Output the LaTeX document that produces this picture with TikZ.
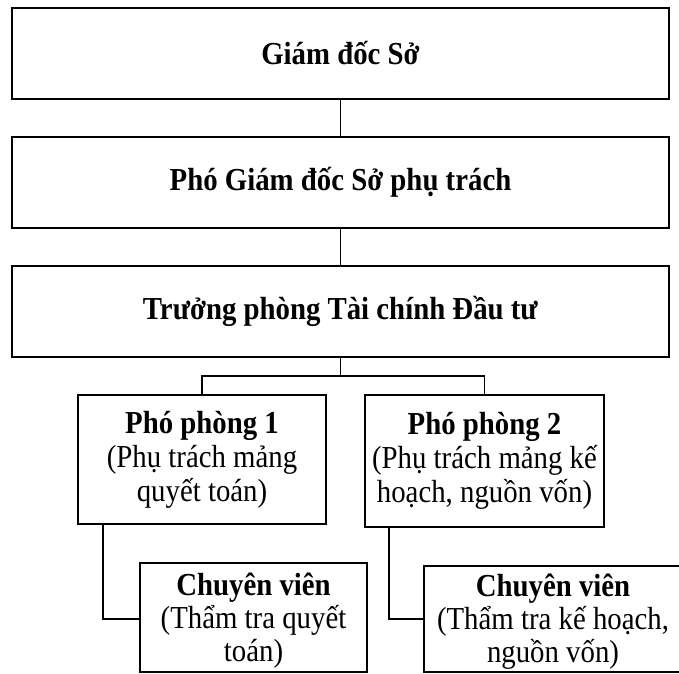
\documentclass[tikz,border=0pt]{standalone}
\usepackage{fontspec}
\setmainfont{Liberation Serif}[FakeStretch=0.9]
\begin{document}
\begin{tikzpicture}[x=1pt,y=-1pt,
  box/.style={draw=black, line width=1.4pt, inner sep=0pt, align=center,
              font=\fontsize{32}{34}\selectfont},
  txt/.style={inner sep=0pt, align=center, font=\fontsize{32}{33}\selectfont},
  con/.style={draw=black, line width=1.4pt}]
\useasboundingbox (0,0) rectangle (679,673);
% top boxes
\node[box, minimum width=657pt, minimum height=91pt] (gd)  at (340.5,53.5)  {\textbf{Giám đốc Sở}};
\node[box, minimum width=657pt, minimum height=91pt] (pgd) at (340.5,182.5) {\textbf{Phó Giám đốc Sở phụ trách}};
\node[box, minimum width=657pt, minimum height=91pt] (tp)  at (340.5,311.5) {\textbf{Trưởng phòng Tài chính Đầu tư}};
% deputy boxes
\node[box, minimum width=248pt, minimum height=129pt] (pp1) at (202,459.5)
  {\textbf{Phó phòng 1}\\(Phụ trách mảng\\quyết toán)};
\node[box, minimum width=239pt, minimum height=132pt] (pp2) at (484.5,461)
  {\textbf{Phó phòng 2}\\(Phụ trách mảng kế\\hoạch, nguồn vốn)};
% specialist boxes
\node[box, minimum width=227pt, minimum height=109pt] (cv1) at (253.5,617.5) {};
\node[box, minimum width=270pt, minimum height=106pt] (cv2) at (559,619) {};
\node[txt, anchor=north] (cv1t) at ([yshift=-10pt]cv1.north) {\textbf{Chuyên viên}\\(Thẩm tra quyết\\toán)};
\node[txt, anchor=north] (cv2t) at (553,574) {\textbf{Chuyên viên}\\(Thẩm tra kế hoạch,\\nguồn vốn)};
% connectors
\coordinate (bus) at (340.5,376);
\coordinate (e1) at (103,619);
\coordinate (e2) at (389,619);
\draw[con] (gd.south) -- (pgd.north);
\draw[con] (pgd.south) -- (tp.north);
\draw[con] (tp.south) -- (bus);
\draw[con] (pp1.north) |- (bus) -| (pp2.north);
\draw[con] (pp1.south -| e1) -- (e1) -- (cv1.west |- e1);
\draw[con] (pp2.south -| e2) -- (e2) -- (cv2.west |- e2);
\end{tikzpicture}
\end{document}
